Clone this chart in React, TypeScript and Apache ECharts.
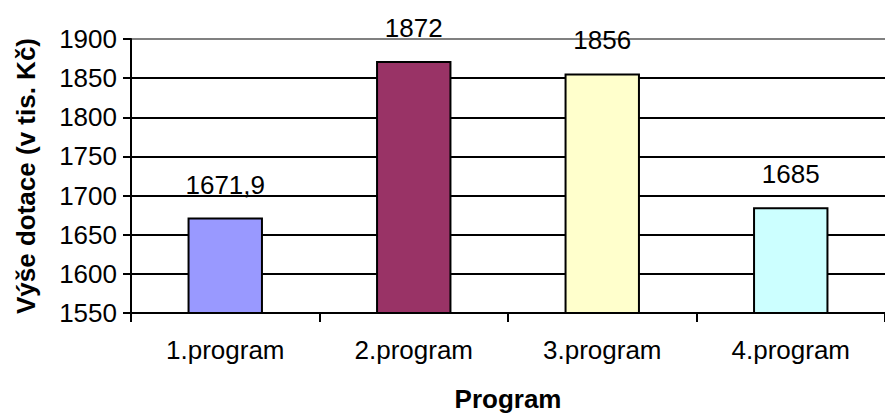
import React, { useEffect, useRef } from "react";
import * as echarts from "echarts";

const categories = ["1.program", "2.program", "3.program", "4.program"];
const values = [1671.9, 1872, 1856, 1685];
const barColors = ["#9999FF", "#993366", "#FFFFCC", "#CCFFFF"];
const yMin = 1550;
const yMax = 1900;
const yInterval = 50;
const yTitle = "Výše dotace (v tis. Kč)";
const xTitle = "Program";

export default function App() {
  const ref = useRef<HTMLDivElement>(null);
  useEffect(() => {
    if (!ref.current) return;
    const chart = echarts.init(ref.current, undefined, { renderer: "svg" });
    const font = "Arial, 'Liberation Sans', sans-serif";
    const fs = 26;
    chart.setOption({
      animation: false,
      backgroundColor: "#ffffff",
      grid: { left: 131, right: -9, top: 39, bottom: 98, containLabel: false },
      xAxis: {
        type: "category",
        data: categories,
        name: xTitle,
        nameLocation: "middle",
        nameGap: 73,
        nameTextStyle: { fontFamily: font, fontSize: fs, fontWeight: "bold", color: "#000" },
        axisLine: { lineStyle: { color: "#000", width: 2 } },
        axisTick: { show: true, alignWithLabel: false, length: 9, lineStyle: { color: "#000", width: 2 } },
        axisLabel: { fontFamily: font, fontSize: fs, color: "#000", margin: 24 },
        splitLine: { show: false },
      },
      yAxis: {
        type: "value",
        min: yMin,
        max: yMax,
        interval: yInterval,
        name: yTitle,
        nameLocation: "middle",
        nameRotate: 90,
        nameGap: 92,
        nameTextStyle: { fontFamily: font, fontSize: fs, fontWeight: "bold", color: "#000" },
        axisLine: { show: true, lineStyle: { color: "#000", width: 2 } },
        axisTick: { show: true, length: 8, lineStyle: { color: "#000", width: 2 } },
        axisLabel: {
          fontFamily: font,
          fontSize: fs,
          color: "#000",
          margin: 14,
          formatter: (v: number) => String(v),
        },
        splitLine: {
          show: true,
          lineStyle: {
            color: ["#000", "#000", "#000", "#000", "#000", "#000", "#000", "#808080"],
            width: 2,
          },
        },
      },
      series: [
        {
          type: "bar",
          data: values.map((v, i) => ({
            value: v,
            itemStyle: { color: barColors[i], borderColor: "#000", borderWidth: 2 },
          })),
          barWidth: "40%",
          label: {
            show: true,
            position: "top",
            distance: 20,
            fontFamily: font,
            fontSize: fs,
            color: "#000",
            formatter: (p: any) => String(p.value).replace(".", ","),
          },
        },
      ],
    });
    return () => chart.dispose();
  }, []);
  return (
    <div
      ref={ref}
      style={{ position: "absolute", left: 0, top: 0, width: 885, height: 417, background: "#fff" }}
    />
  );
}
